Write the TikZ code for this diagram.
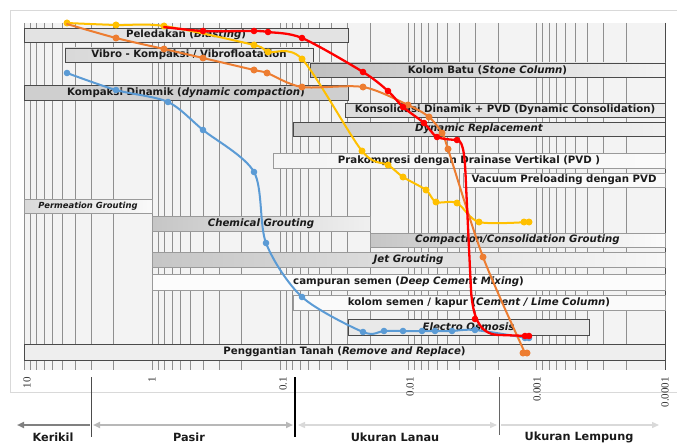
\documentclass[tikz,border=0pt]{standalone}
\usepackage{fontspec}
\setmainfont{DejaVu Sans}
\newfontfamily\numfont{Liberation Serif}
\usetikzlibrary{arrows.meta}
\definecolor{cy}{HTML}{FFC000}
\definecolor{co}{HTML}{ED7D31}
\definecolor{cr}{HTML}{FF0000}
\definecolor{cb}{HTML}{5B9BD5}
\definecolor{plotbg}{HTML}{F3F3F3}
\definecolor{gridc}{HTML}{8F8F8F}
\definecolor{framec}{HTML}{D9D9D9}
\definecolor{bdark}{HTML}{4A4A4A}
\definecolor{blight}{HTML}{9A9A9A}
\definecolor{txt}{HTML}{1A1A1A}
\tikzset{
  bx/.style={draw=bdark, line width=0.9pt, inner sep=0pt, outer sep=0pt,
    text=txt, font=\bfseries\fontsize{10.2}{12}\selectfont},
  bxl/.style={bx, draw=blight},
  gridl/.style={draw=gridc, line width=0.7pt},
  curve/.style={line width=2pt, line cap=round, line join=round},
  sizelab/.style={text=txt, font=\bfseries\fontsize{11.3}{13}\selectfont, inner sep=0pt},
  ticklab/.style={text=black!80, font=\numfont\fontsize{11}{13}\selectfont, rotate=90, anchor=east, inner sep=0pt},
  sep/.style={line width=1pt},
}
\begin{document}
\begin{tikzpicture}[x=1pt,y=-1pt]
\useasboundingbox (0,0) rectangle (677,444);
\clip (0,0) rectangle (677,444);
\fill[white] (0,0) rectangle (677,444);
% outer frame
\draw[framec, line width=0.8pt] (10,10) rectangle (690,392);
% plot background and grid
\fill[plotbg] (24,23) rectangle (665,370);
\draw[gridl] (24,23) -- (24,370);
\foreach \d in {0,...,4}{
  \foreach \m in {1,...,9}{
    \pgfmathsetmacro\xx{24+128.2*(1+\d-log10(\m))}
    \draw[gridl] (\xx,23) -- (\xx,370);
  }
}
\draw[draw=bdark, line width=0.9pt] (665,23) -- (665,370);
% bars
\node[bx, fill=gray!22, minimum width=324pt, minimum height=14pt] (peled) at (186,35) {Peledakan (\textit{Blasting})};
\node[bx, left color=gray!30, middle color=white, right color=gray!15, minimum width=248pt, minimum height=14pt] (vibro) at (189,55) {Vibro - Kompaksi / Vibrofloatation};
\node[bx, left color=gray!50, middle color=gray!5, right color=gray!10, minimum width=355pt, minimum height=14pt] (kolombatu) at (487.5,70) {Kolom Batu (\textit{Stone Column})};
\node[bx, fill=gray!38, minimum width=324pt, minimum height=15pt] (kompaksi) at (186,92.5) {Kompaksi Dinamik (\textit{dynamic compaction})};
\node[bx, left color=gray!28, right color=gray!16, minimum width=320pt, minimum height=14pt] (konsol) at (505,110) {Konsolidasi Dinamik + PVD (Dynamic Consolidation)};
\node[bx, left color=gray!40, right color=gray!12, minimum width=372pt, minimum height=14pt] (dynrep) at (479,129) {\textit{Dynamic Replacement}};
\node[bxl, left color=gray!8, right color=gray!4, minimum width=392pt, minimum height=15pt] (prakom) at (469,160.5) {Prakompresi dengan Drainase Vertikal (PVD )};
\node[bxl, fill=gray!4, minimum width=202pt, minimum height=14pt] (vacuum) at (564,180) {Vacuum Preloading dengan PVD};
\node[bxl, left color=gray!30, right color=gray!4, minimum width=128pt, minimum height=14pt, font=\bfseries\itshape\fontsize{8.4}{10}\selectfont] (perm) at (88,206) {Permeation Grouting};
\node[bxl, left color=gray!45, right color=gray!12, minimum width=218pt, minimum height=15pt] (chem) at (261,223.5) {\textit{Chemical Grouting}};
\node[bxl, left color=gray!45, middle color=gray!5, right color=gray!3, minimum width=295pt, minimum height=14pt] (compgr) at (517.5,240) {\textit{Compaction/Consolidation Grouting}};
\node[bxl, left color=gray!45, middle color=white, right color=gray!6, minimum width=513pt, minimum height=15pt] (jet) at (408.5,259.5) {\textit{Jet Grouting}};
\node[bxl, fill=gray!2, minimum width=513pt, minimum height=16pt] (dcm) at (408.5,282) {campuran semen (\textit{Deep Cement Mixing})};
\node[bxl, fill=gray!4, minimum width=372pt, minimum height=15pt] (kolsem) at (479,302.5) {kolom semen / kapur (\textit{Cement / Lime Column})};
\node[bx, fill=gray!17, minimum width=241pt, minimum height=16pt] (electro) at (468.5,327) {\textit{Electro Osmosis}};
\node[bx, fill=gray!13, minimum width=641pt, minimum height=16pt] (ganti) at (344.5,352) {Penggantian Tanah (\textit{Remove and Replace})};
% curves
\draw[curve, cb] plot[smooth, tension=0.5] coordinates {(67,73) (116,90) (168,102) (203,130) (254,172) (266,243) (302,297) (363,332) (384,331) (403,331) (422,331) (435,331) (452,331) (475,330) (527,338)};
\foreach \p in {(67,73),(116,90),(168,102),(203,130),(254,172),(266,243),(302,297),(363,332),(384,331),(403,331),(422,331),(435,331),(452,331),(475,330),(525,338),(529,338)}
  \fill[cb] \p circle (3.3);
\draw[curve, cy] plot[smooth, tension=0.5] coordinates {(67,23) (116,25) (164,26) (254,45) (268,52) (302,59) (362,151) (388,165) (403,177) (426,190) (436,202) (457,203) (479,222) (528,222)};
\foreach \p in {(67,23),(116,25),(164,26),(254,45),(268,52),(302,59),(362,151),(388,165),(403,177),(426,190),(436,202),(457,203),(479,222),(524,222),(529,222)}
  \fill[cy] \p circle (3.5);
\draw[curve, co] plot[smooth, tension=0.5] coordinates {(67,24) (116,38) (164,49) (203,58) (254,70) (267,73) (302,87) (363,87) (408,105) (429,117) (442,133) (448,149) (483,257) (525,353)};
\foreach \p in {(116,38),(164,49),(203,58),(254,70),(267,73),(302,87),(363,87),(408,105),(429,117),(442,133),(448,149),(483,257),(523,353),(527,353)}
  \fill[co] \p circle (3.5);
\draw[curve, cr, line width=2.3pt] plot[smooth, tension=0.5] coordinates {(164,27) (203,31) (254,31) (268,32) (302,38) (363,72) (388,91) (403,107) (424,123) (437,137) (457,140)}
  .. controls (464,140) and (465,160) .. (466,185) -- (471,290)
  .. controls (473,322) and (482,335) .. (500,335) -- (529,336);
\foreach \p in {(203,31),(254,31),(268,32),(302,38),(363,72),(388,91),(403,107),(424,123),(437,137),(457,140),(475,319),(525,336),(529,336)}
  \fill[cr] \p circle (3.3);
% tick labels
\node[ticklab] (t10) at (27,377) {10};
\node[ticklab] (t1) at (152,377) {1};
\node[ticklab] (t01) at (283,377) {0.1};
\node[ticklab] (t001) at (410,377) {0.01};
\node[ticklab] (t0001) at (537,377) {0.001};
\node[ticklab] (t00001) at (665,377) {0.0001};
% size classes
\coordinate (s1t) at (91,377); \coordinate (s1b) at (91,437);
\coordinate (s2t) at (295,377); \coordinate (s2b) at (295,437);
\coordinate (s3t) at (499,377); \coordinate (s3b) at (499,435);
\draw[sep, black!70] (s1t) -- (s1b);
\draw[sep, black, line width=1.6pt] (s2t) -- (s2b);
\draw[sep, black!60] (s3t) -- (s3b);
\coordinate (a0) at (17,425);
\coordinate (a1) at (90,425);
\coordinate (a2) at (93,425);
\coordinate (a3) at (293,425);
\coordinate (a4) at (298,425);
\coordinate (a5) at (497,425);
\coordinate (a6) at (501,425);
\coordinate (a7) at (659,425);
\draw[-{Triangle[length=7pt,width=6pt]}, line width=2pt, black!50] (a1) -- (a0);
\draw[{Triangle[length=7pt,width=6pt]}-{Triangle[length=7pt,width=6pt]}, line width=1.8pt, black!28] (a2) -- (a3);
\draw[{Triangle[length=7pt,width=6pt]}-{Triangle[length=7pt,width=6pt]}, line width=1.4pt, black!15] (a4) -- (a5);
\draw[-{Triangle[length=7pt,width=6pt]}, line width=1.4pt, black!15] (a6) -- (a7);
\node[sizelab] (kerikil) at (53,437) {Kerikil};
\node[sizelab] (pasir) at (189,437) {Pasir};
\node[sizelab] (lanau) at (395,437) {Ukuran Lanau};
\node[sizelab] (lempung) at (579,437) {Ukuran Lempung};
\end{tikzpicture}
\end{document}
